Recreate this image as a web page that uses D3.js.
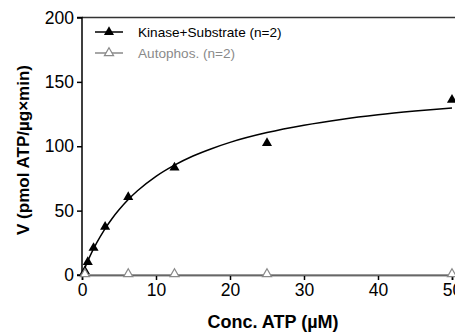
<!DOCTYPE html>
<html><head><meta charset="utf-8">
<script src="https://cdn.jsdelivr.net/npm/d3@7"></script>
<style>
html,body{margin:0;padding:0;background:#fff;}
svg{display:block;font-family:"Liberation Sans",Arial,Helvetica,sans-serif;}
</style></head>
<body>
<svg id="chart" width="455" height="332"></svg>
<script>
// Data
const kinaseX = [0.39, 0.78, 1.56, 3.125, 6.25, 12.5, 25, 50];
const kinaseY = [3, 10, 21, 37.5, 60.5, 83.5, 102.5, 136];
const autoX = [0.39, 6.25, 12.5, 25, 50];
const autoY = [0, 0, 0, 0, 0];
// Fitted (Michaelis-Menten) curve
const fitX = [0, 0.5, 1, 2, 3, 4, 5, 6.25, 7.5, 10, 12.5, 15, 17.5, 20, 25, 30, 35, 40, 45, 50];
const fitY = [0, 7.1, 13.7, 25.1, 34.9, 43.3, 50.6, 58.6, 65.4, 76.6, 85.3, 92.4, 98.1, 103.0, 110.6, 116.3, 120.8, 124.4, 127.3, 129.8];
const autoFitX = [0, 50];
const autoFitY = [0, 0];
const xTicks = [0, 10, 20, 30, 40, 50];
const yTicks = [0, 50, 100, 150, 200];
const seriesNames = ["Kinase+Substrate (n=2)", "Autophos. (n=2)"];
const xTitle = "Conc. ATP (\u00b5M)";
const yTitle = "V (pmol ATP/\u00b5g\u00d7min)";

const svg = d3.select("#chart");
const x = d3.scaleLinear().domain([0, 50]).range([82, 452]);
const y = d3.scaleLinear().domain([0, 200]).range([275, 17.5]);
const gray = "#8a8a8a";

// Top frame line
svg.append("line").attr("x1", x(0)).attr("x2", 455).attr("y1", y(200)).attr("y2", y(200))
  .attr("stroke", "#333").attr("stroke-width", 1.6);

// Axes
const xAxis = svg.append("g").attr("transform", `translate(0,${y(0)})`)
  .call(d3.axisBottom(x).tickValues(xTicks).tickSize(5).tickPadding(4).tickFormat(d3.format("d")));
const yAxis = svg.append("g").attr("transform", `translate(${x(0)},0)`)
  .call(d3.axisLeft(y).tickValues(yTicks).tickSize(5).tickPadding(3).tickFormat(d3.format("d")));
[xAxis, yAxis].forEach(g => {
  g.select(".domain").attr("stroke", "#000").attr("stroke-width", 1.5);
  g.selectAll(".tick line").attr("stroke", "#000").attr("stroke-width", 1.5);
  g.selectAll(".tick text").attr("font-size", 17.5).attr("fill", "#000")
    .attr("font-family", '"Liberation Sans",Arial,sans-serif');
});
yAxis.select(".domain").attr("d", `M-5,${y(200)}H0V${y(0)}H-5`);

// Titles
svg.append("text").attr("x", 273).attr("y", 328).attr("text-anchor", "middle")
  .attr("font-weight", "bold").attr("font-size", 18).text(xTitle);
svg.append("text").attr("transform", `translate(29,150) rotate(-90)`)
  .attr("text-anchor", "middle").attr("font-weight", "bold").attr("font-size", 17).text(yTitle);

// Lines
const line = d3.line().x(d => x(d[0])).y(d => y(d[1])).curve(d3.curveMonotoneX);
svg.append("path").datum(autoFitX.map((v, i) => [v, autoFitY[i]])).attr("d", line)
  .attr("fill", "none").attr("stroke", gray).attr("stroke-width", 1.6);
svg.append("path").datum(fitX.map((v, i) => [v, fitY[i]])).attr("d", line)
  .attr("fill", "none").attr("stroke", "#000").attr("stroke-width", 1.5);

// Markers
const tri = d3.symbol().type(d3.symbolTriangle).size(44);
svg.append("g").selectAll("path").data(kinaseX.map((v, i) => [v, kinaseY[i]])).join("path")
  .attr("d", tri).attr("transform", d => `translate(${x(d[0])},${y(d[1])})`).attr("fill", "#000");
const triO = d3.symbol().type(d3.symbolTriangle).size(36);
svg.append("g").selectAll("path").data(autoX.map((v, i) => [v, autoY[i]])).join("path")
  .attr("d", triO).attr("transform", d => `translate(${x(d[0])},${y(d[1]) - 1})`)
  .attr("fill", "#fff").attr("stroke", gray).attr("stroke-width", 1.2);

// Legend
const leg = [
  {name: seriesNames[0], color: "#000", filled: true, yy: 32},
  {name: seriesNames[1], color: gray, filled: false, yy: 53}
];
leg.forEach(l => {
  svg.append("line").attr("x1", 95).attr("x2", 123).attr("y1", l.yy).attr("y2", l.yy)
    .attr("stroke", l.color).attr("stroke-width", 1.5);
  svg.append("path").attr("d", l.filled ? tri() : triO()).attr("transform", `translate(109,${l.yy})`)
    .attr("fill", l.filled ? "#000" : "#fff").attr("stroke", l.filled ? "none" : l.color).attr("stroke-width", 1.2);
  svg.append("text").attr("x", 138).attr("y", l.yy + 5).attr("font-size", 13.6)
    .attr("fill", l.filled ? "#000" : gray).text(l.name);
});
</script>
</body></html>
